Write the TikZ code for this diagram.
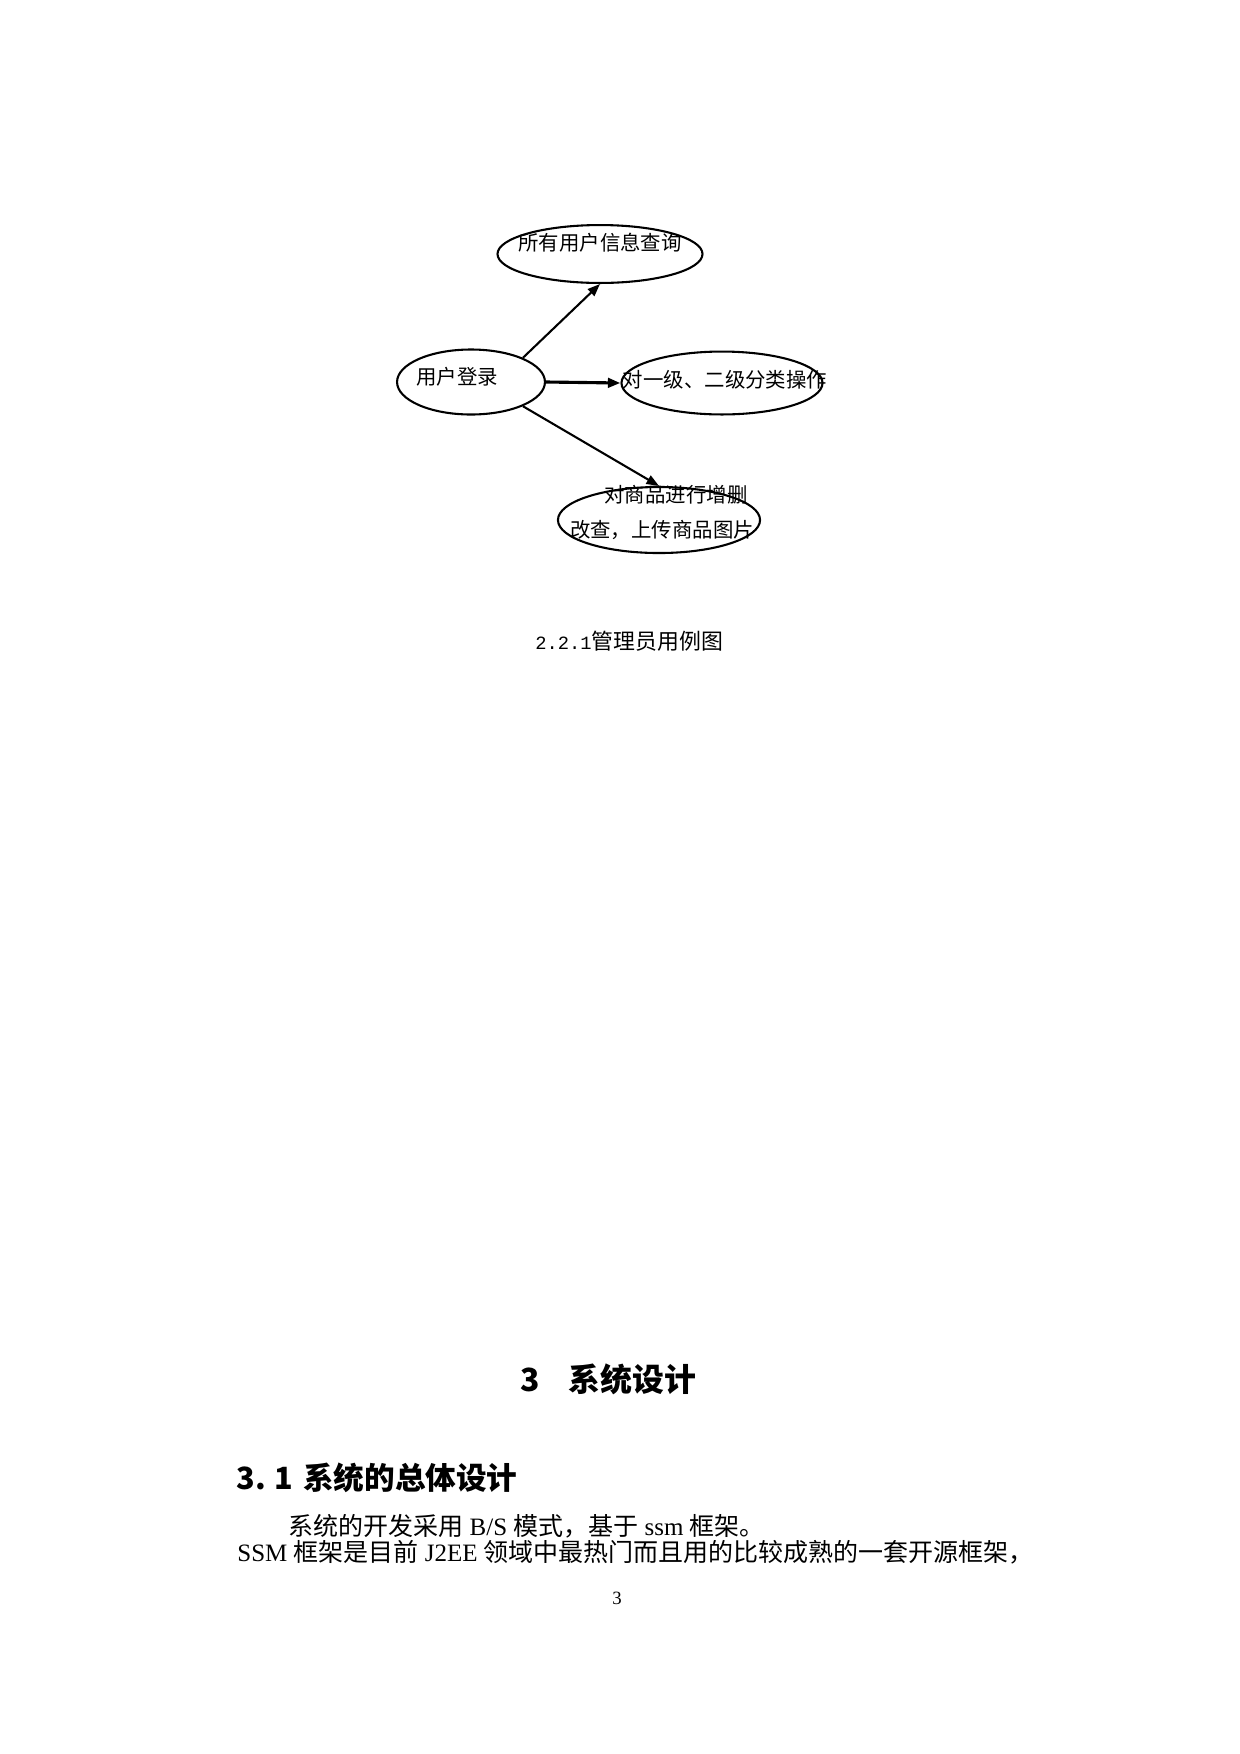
\documentclass[tikz,border=0pt]{standalone}
\usepackage{fontspec}
\setmainfont{Liberation Serif}
\newfontfamily\cjk{Noto Sans CJK SC}
\newfontfamily\capmono{Liberation Mono}
\usetikzlibrary{shapes.geometric,arrows.meta}
\begin{document}
\begin{tikzpicture}[x=0.48pt,y=-0.48pt]
  \tikzstyle{usecase}=[draw,ellipse,line width=1pt,inner sep=0pt]
  \tikzstyle{uselabel}=[inner sep=0pt,font=\cjk\fontsize{9.8pt}{9.8pt}\selectfont]
  \tikzstyle{assoc}=[line width=1pt,-{Triangle[length=6pt,width=4.5pt]}]
  \tikzstyle{heading}=[anchor=west,inner sep=0pt]
  \tikzstyle{bodyline}=[anchor=west,inner sep=0pt,font=\fontsize{12pt}{12pt}\selectfont]
  \useasboundingbox (0,0) rectangle (1240,1754);
  \fill[white] (0,0) rectangle (1240,1754);
  \node[usecase,minimum width=71pt,minimum height=31.2pt] (login) at (471,382) {};
  \node[usecase,minimum width=98.4pt,minimum height=27.8pt] (query) at (600,254) {};
  \node[usecase,minimum width=96.5pt,minimum height=30.2pt] (category) at (722,383) {};
  \node[usecase,minimum width=97pt,minimum height=31.7pt] (goods) at (659,520) {};
  \node[uselabel] (login text) at (457,377) {用户登录};
  \node[uselabel] (query text) at (600,243) {所有用户信息查询};
  \node[uselabel] (category text) at (725,380) {对一级、二级分类操作};
  \node[uselabel] (goods text a) at (676,495) {对商品进行增删};
  \node[uselabel] (goods text b) at (662,530) {改查，上传商品图片};
  \draw[assoc] (login.25) -- (query.south);
  \draw[assoc,line width=1.5pt] (login.east) -- (category.west);
  \draw[assoc] (login.-25) -- (goods.north);
  \node[heading,font=\fontsize{10.5pt}{10.5pt}\selectfont] (caption) at (535,641)
    {{\capmono\fontsize{9pt}{9pt}\selectfont 2.2.1}{\cjk 管理员用例图}};
  \node[heading,font=\cjk\bfseries\fontsize{15.3pt}{15.3pt}\selectfont] (chapter) at (520,1379)
    {3\hspace{13.9pt}系统设计};
  \node[heading,font=\cjk\bfseries\fontsize{14.7pt}{14.7pt}\selectfont] (section) at (236,1478)
    {3.\hspace{4pt}1\hspace{5pt}系统的总体设计};
  \node[bodyline] (para one) at (288,1526)
    {{\cjk 系统的开发采用} B/S {\cjk 模式，基于} ssm {\cjk 框架。}};
  \node[bodyline] (para two) at (237,1552)
    {SSM {\cjk 框架是目前} J2EE {\cjk 领域中最热门而且用的比较成熟的一套开源框架，}};
  \node[inner sep=0pt,font=\fontsize{9pt}{9pt}\selectfont] (page number) at (617,1598) {3};
\end{tikzpicture}
\end{document}
